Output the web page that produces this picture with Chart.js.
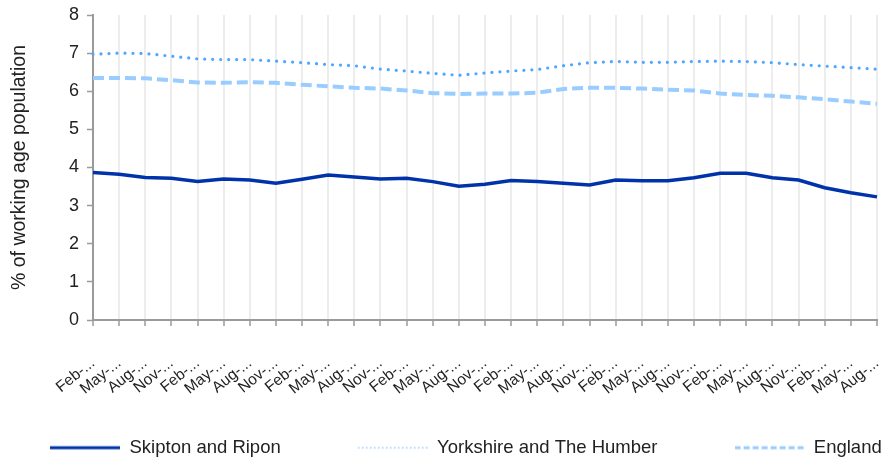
<!DOCTYPE html>
<html>
<head>
<meta charset="utf-8">
<script src="https://cdn.jsdelivr.net/npm/chart.js@4.4.1/dist/chart.umd.min.js"></script>
<style>
  html, body { margin: 0; padding: 0; background: #ffffff; overflow: hidden; }
  #wrap { position: relative; width: 884px; height: 461px; }
</style>
</head>
<body>
<div id="wrap"><canvas id="chart" width="884" height="461"></canvas></div>
<script>
// ---- data ----
const categories = [
  "Feb-...", "May-...", "Aug-...", "Nov-...",
  "Feb-...", "May-...", "Aug-...", "Nov-...",
  "Feb-...", "May-...", "Aug-...", "Nov-...",
  "Feb-...", "May-...", "Aug-...", "Nov-...",
  "Feb-...", "May-...", "Aug-...", "Nov-...",
  "Feb-...", "May-...", "Aug-...", "Nov-...",
  "Feb-...", "May-...", "Aug-...", "Nov-...",
  "Feb-...", "May-...", "Aug-..."
];
const skiptonAndRipon = [3.87, 3.82, 3.74, 3.72, 3.63, 3.70, 3.67, 3.59, 3.69, 3.80, 3.75,
                         3.70, 3.72, 3.63, 3.51, 3.56, 3.66, 3.63, 3.59, 3.54, 3.67,
                         3.65, 3.65, 3.73, 3.85, 3.85, 3.73, 3.67, 3.47, 3.34, 3.23];
const yorkshireAndTheHumber = [6.97, 7.00, 6.99, 6.92, 6.85, 6.83, 6.83, 6.79, 6.75, 6.70, 6.67,
                               6.58, 6.53, 6.47, 6.42, 6.48, 6.53, 6.57, 6.67, 6.75, 6.78,
                               6.76, 6.76, 6.78, 6.79, 6.78, 6.75, 6.70, 6.66, 6.62, 6.58];
const england = [6.35, 6.35, 6.34, 6.29, 6.23, 6.22, 6.24, 6.22, 6.17, 6.13, 6.09,
                 6.07, 6.02, 5.95, 5.93, 5.94, 5.94, 5.96, 6.06, 6.09, 6.09,
                 6.07, 6.04, 6.02, 5.94, 5.90, 5.88, 5.84, 5.79, 5.73, 5.67];
const seriesNames = ["Skipton and Ripon", "Yorkshire and The Humber", "England"];
const yAxisTitle = "% of working age population";
const yMin = 0, yMax = 8, yStep = 1;

// ---- chart ----
const FONT = "'Liberation Sans', Arial, Helvetica, sans-serif";
const TEXT = "#222222";
const AXIS = "#9a9a9a";
const legendGap = "\u00A0".repeat(15);
const SWATCH_W = 70;

// legend swatches (line samples) rendered as point-style images
function swatch(color, width, dash, cap) {
  const c = document.createElement("canvas");
  c.width = SWATCH_W; c.height = 8;
  const g = c.getContext("2d");
  g.strokeStyle = color; g.lineWidth = width; g.lineCap = cap; g.setLineDash(dash);
  g.beginPath();
  g.moveTo(0, 4);
  g.lineTo(SWATCH_W, 4);
  g.stroke();
  return c;
}
const legendSwatches = [
  swatch("#0033aa", 3, [], "butt"),
  swatch("#b3d7ff", 2, [1.5, 2.5], "butt"),
  swatch("#99ccff", 3, [6, 3], "butt")
];

new Chart(document.getElementById("chart"), {
  type: "line",
  data: {
    labels: categories,
    datasets: [
      { label: seriesNames[0], data: skiptonAndRipon, borderColor: "#0033aa", backgroundColor: "#0033aa",
        borderWidth: 3.5, pointRadius: 0, tension: 0, fill: false },
      { label: seriesNames[1], data: yorkshireAndTheHumber, borderColor: "#4da6ff", backgroundColor: "#4da6ff",
        borderWidth: 3.2, borderDash: [0, 8], borderCapStyle: "round", pointRadius: 0, tension: 0, fill: false },
      { label: seriesNames[2], data: england, borderColor: "#99ccff", backgroundColor: "#99ccff",
        borderWidth: 4, borderDash: [11, 5], pointRadius: 0, tension: 0, fill: false }
    ]
  },
  options: {
    responsive: false,
    animation: false,
    events: [],
    layout: { padding: { left: 48, right: 0, top: 15, bottom: -6 } },
    scales: {
      x: {
        grid: { color: "#ededed", lineWidth: 2, tickColor: AXIS, tickLength: 6, tickWidth: 1.5 },
        border: { color: AXIS, width: 2 },
        ticks: { autoSkip: false, minRotation: 39, maxRotation: 39, padding: 28, color: TEXT,
                 font: { family: FONT, size: 15.5 } },
        afterFit(scale) { scale.height = 118.5; scale.paddingRight = 7; }
      },
      y: {
        min: yMin, max: yMax,
        grid: { drawOnChartArea: false, tickColor: AXIS, tickLength: 6, tickWidth: 1.5 },
        border: { color: AXIS, width: 2 },
        ticks: { stepSize: yStep, padding: 8, color: TEXT, font: { family: FONT, size: 18 } },
        title: { display: true, text: yAxisTitle, color: TEXT, font: { family: FONT, size: 19.5 },
                 padding: { top: -39.7, bottom: 0 } },
        afterFit(scale) { scale.width = 45; scale.paddingTop = 0; scale.paddingBottom = 0; }
      }
    },
    plugins: {
      tooltip: { enabled: false },
      legend: {
        position: "bottom",
        align: "center",
        labels: {
          usePointStyle: true,
          pointStyleWidth: SWATCH_W,
          padding: 0,
          color: TEXT,
          font: { family: FONT, size: 18.5 },
          generateLabels(chart) {
            const items = Chart.defaults.plugins.legend.labels.generateLabels(chart);
            items.forEach((it, i) => {
              it.pointStyle = legendSwatches[i];
              if (i < items.length - 1) it.text = it.text + legendGap;
            });
            return items;
          }
        }
      }
    }
  }
});
</script>
</body>
</html>
